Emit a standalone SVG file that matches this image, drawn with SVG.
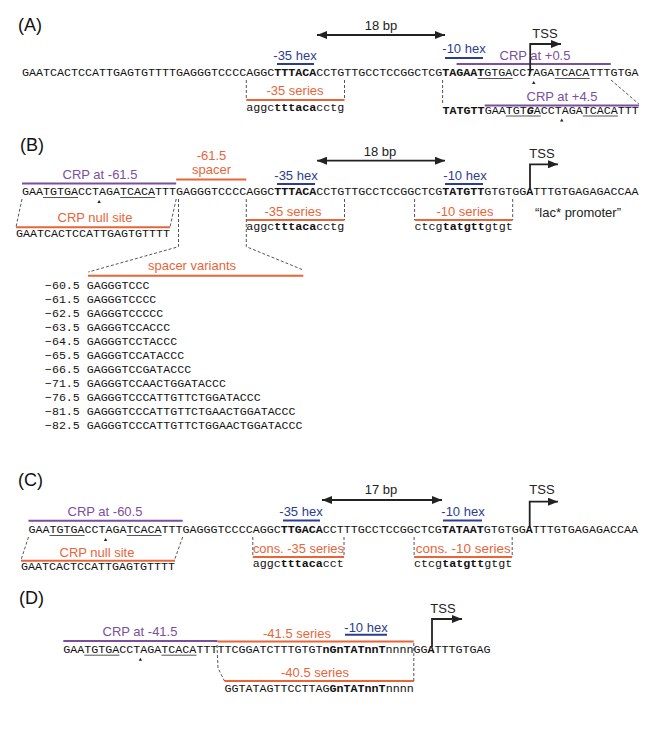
<svg xmlns="http://www.w3.org/2000/svg" width="660" height="739" viewBox="0 0 660 739">
<defs>
<style>
.seq{font-family:"Liberation Mono","DejaVu Sans Mono",monospace;font-size:11.68px;fill:#111}
.b{font-weight:bold}
.bi{font-weight:bold;font-style:italic}
.lbl{font-family:"Liberation Sans",Arial,sans-serif;font-size:13px;text-anchor:middle;fill:#222}
.pl{font-family:"Liberation Sans",Arial,sans-serif;font-size:18px;fill:#111}
.pur{fill:#7b4f9d}
.blu{fill:#2d3d8e}
.org{fill:#e8653a}
.lp{stroke:#7b4f9d;stroke-width:2}
.lb{stroke:#2d3d8e;stroke-width:2}
.lo{stroke:#e8653a;stroke-width:2}
.dash{stroke:#555;stroke-width:1;stroke-dasharray:3,2;fill:none}
.ul{stroke:#555;stroke-width:1}
.arr{stroke:#222;stroke-width:1.8;fill:none}
.car{fill:#222}
</style>
<marker id="ah" markerUnits="userSpaceOnUse" viewBox="0 0 10 8" refX="10" refY="4" markerWidth="10" markerHeight="8" orient="auto-start-reverse">
<path d="M0,0 L10,4 L0,8 z" fill="#222"/>
</marker>
</defs>

<!-- Panel A -->
<g id="panelA">
<text class="pl" x="18" y="31">(A)</text>
<g id="A-seq"><text class="seq" x="22" y="76">GAATCACTCCATTGAGTGTTTTGAGGGTCCCCAGGC<tspan class="b">TTTACA</tspan>CCTGTTGCCTCCGGCTCG<tspan class="b">TAGAAT</tspan>GTGACC<tspan class="bi">T</tspan>AGATCACATTTGTGA</text>
<line class="ul" x1="477.6" y1="78.5" x2="512.7" y2="78.5"/>
<line class="ul" x1="554.8" y1="78.5" x2="589.8" y2="78.5"/>
<path class="car" d="M532,84 L535.5,84 L533.7,81 z"/>
</g>
<g id="A-35hex"><text class="lbl blu" x="295" y="60">-35 hex</text><line class="lb" x1="277" y1="64" x2="314" y2="64"/></g>
<g id="A-10hex"><text class="lbl blu" x="464" y="53">-10 hex</text><line class="lb" x1="445" y1="58" x2="483" y2="58"/></g>
<g id="A-crp05"><text class="lbl pur" x="535" y="60">CRP at +0.5</text><line class="lp" x1="456.6" y1="64" x2="610.8" y2="64"/></g>
<g id="A-tss"><text class="lbl" x="545" y="38">TSS</text></g>
<g id="A-18bp"><text class="lbl" x="381" y="30">18 bp</text></g>
<g id="A-35series"><text class="lbl org" x="295" y="95">-35 series</text><line class="lo" x1="246.3" y1="100" x2="344.5" y2="100"/>
<text class="seq" x="246.3" y="110.5">aggc<tspan class="b">tttaca</tspan>cctg</text></g>
<g id="A-crp45"><text class="lbl pur" x="562" y="101">CRP at +4.5</text><line class="lp" x1="484.7" y1="105.5" x2="638.9" y2="105.5"/>
<text class="seq" x="442.6" y="113.5"><tspan class="b">TATGTT</tspan>GAATGT<tspan class="bi">G</tspan>ACCTAGATCACATTT</text>
<line class="ul" x1="505.7" y1="116" x2="540.7" y2="116"/>
<line class="ul" x1="582.8" y1="116" x2="617.9" y2="116"/>
<path class="car" d="M560,121.5 L563.5,121.5 L561.8,118.5 z"/>
</g>
</g>

<!-- Panel B -->
<g id="panelB">
<text class="pl" x="20" y="151">(B)</text>
<g id="B-seq"><text class="seq" x="22" y="195">GAATGTGACCTAGATCACATTTGAGGGTCCCCAGGC<tspan class="b">TTTACA</tspan>CCTGTTGCCTCCGGCTCG<tspan class="b">TATGTT</tspan>GTGTGG<tspan class="b">A</tspan>TTTGTGAGAGACCAA</text>
<line class="ul" x1="43" y1="197.5" x2="78.1" y2="197.5"/>
<line class="ul" x1="120.1" y1="197.5" x2="155.2" y2="197.5"/>
<path class="car" d="M97.4,203 L100.8,203 L99.1,200 z"/>
</g>
<g id="B-crp615"><text class="lbl pur" x="100" y="179">CRP at -61.5</text><line class="lp" x1="22" y1="183.5" x2="176.2" y2="183.5"/></g>
<g id="B-spacer"><text class="lbl org" x="211.5" y="160">-61.5</text><text class="lbl org" x="211.5" y="174">spacer</text><line class="lo" x1="176.2" y1="179.5" x2="246.3" y2="179.5"/></g>
<g id="B-35hex"><text class="lbl blu" x="296" y="180">-35 hex</text><line class="lb" x1="277" y1="184" x2="315" y2="184"/></g>
<g id="B-10hex"><text class="lbl blu" x="465" y="180">-10 hex</text><line class="lb" x1="445" y1="184" x2="483" y2="184"/></g>
<g id="B-18bp"><text class="lbl" x="380" y="156">18 bp</text></g>
<g id="B-tss"><text class="lbl" x="542" y="158">TSS</text></g>
<g id="B-35series"><text class="lbl org" x="293" y="215.5">-35 series</text><line class="lo" x1="246.3" y1="220" x2="344.5" y2="220"/>
<text class="seq" x="246.3" y="230">aggc<tspan class="b">tttaca</tspan>cctg</text></g>
<g id="B-10series"><text class="lbl org" x="465" y="215.5">-10 series</text><line class="lo" x1="414.6" y1="220" x2="512.7" y2="220"/>
<text class="seq" x="414.6" y="230">ctcg<tspan class="b">tatgtt</tspan>gtgt</text></g>
<g id="B-lac"><text class="lbl" x="578" y="217">“lac* promoter”</text></g>
<g id="B-null"><text class="lbl org" x="95" y="222">CRP null site</text><line class="lo" x1="16" y1="227.3" x2="170" y2="227.3"/>
<text class="seq" x="16" y="237">GAATCACTCCATTGAGTGTTTT</text></g>
<g id="B-variants"><text class="lbl org" x="192" y="270">spacer variants</text><line class="lo" x1="88" y1="275.7" x2="303.3" y2="275.7"/>
<text class="seq" style="font-size:11.6px" x="45" y="289">−60.5 GAGGGTCCC</text>
<text class="seq" style="font-size:11.6px" x="45" y="303">−61.5 GAGGGTCCCC</text>
<text class="seq" style="font-size:11.6px" x="45" y="317">−62.5 GAGGGTCCCCC</text>
<text class="seq" style="font-size:11.6px" x="45" y="331">−63.5 GAGGGTCCACCC</text>
<text class="seq" style="font-size:11.6px" x="45" y="345">−64.5 GAGGGTCCTACCC</text>
<text class="seq" style="font-size:11.6px" x="45" y="359">−65.5 GAGGGTCCATACCC</text>
<text class="seq" style="font-size:11.6px" x="45" y="373">−66.5 GAGGGTCCGATACCC</text>
<text class="seq" style="font-size:11.6px" x="45" y="387">−71.5 GAGGGTCCAACTGGATACCC</text>
<text class="seq" style="font-size:11.6px" x="45" y="401">−76.5 GAGGGTCCCATTGTTCTGGATACCC</text>
<text class="seq" style="font-size:11.6px" x="45" y="415">−81.5 GAGGGTCCCATTGTTCTGAACTGGATACCC</text>
<text class="seq" style="font-size:11.6px" x="45" y="429">−82.5 GAGGGTCCCATTGTTCTGGAACTGGATACCC</text>
</g>
</g>

<!-- Panel C -->
<g id="panelC">
<text class="pl" x="18" y="486">(C)</text>
<g id="C-seq"><text class="seq" x="28.5" y="533">GAATGTGACCTAGATCACATTTGAGGGTCCCCAGGC<tspan class="b">TTGACA</tspan>CCTTTGCCTCCGGCTCG<tspan class="b">TATAAT</tspan>GTGTGG<tspan class="b">A</tspan>TTTGTGAGAGACCAA</text>
<line class="ul" x1="49.5" y1="535.5" x2="84.6" y2="535.5"/>
<line class="ul" x1="126.6" y1="535.5" x2="161.7" y2="535.5"/>
<path class="car" d="M103.9,541 L107.3,541 L105.6,538 z"/>
</g>
<g id="C-crp605"><text class="lbl pur" x="105" y="516">CRP at -60.5</text><line class="lp" x1="28.5" y1="520.7" x2="182.7" y2="520.7"/></g>
<g id="C-35hex"><text class="lbl blu" x="301" y="516">-35 hex</text><line class="lb" x1="283" y1="520.5" x2="320" y2="520.5"/></g>
<g id="C-10hex"><text class="lbl blu" x="463" y="516">-10 hex</text><line class="lb" x1="443" y1="520.5" x2="482" y2="520.5"/></g>
<g id="C-17bp"><text class="lbl" x="381" y="494">17 bp</text></g>
<g id="C-tss"><text class="lbl" x="542" y="494">TSS</text></g>
<g id="C-35series"><text class="lbl org" x="298.4" y="553" textLength="91" lengthAdjust="spacingAndGlyphs">cons. -35 series</text><line class="lo" x1="252.8" y1="557" x2="344" y2="557"/>
<text class="seq" x="252.8" y="567">aggc<tspan class="b">tttaca</tspan>cct</text></g>
<g id="C-10series"><text class="lbl org" x="463.2" y="553" textLength="95" lengthAdjust="spacingAndGlyphs">cons. -10 series</text><line class="lo" x1="414.1" y1="557" x2="512.2" y2="557"/>
<text class="seq" x="414.1" y="567">ctcg<tspan class="b">tatgtt</tspan>gtgt</text></g>
<g id="C-null"><text class="lbl org" x="97" y="556.5">CRP null site</text><line class="lo" x1="21" y1="560.7" x2="175" y2="560.7"/>
<text class="seq" x="21" y="570">GAATCACTCCATTGAGTGTTTT</text></g>
</g>

<!-- Panel D -->
<g id="panelD">
<text class="pl" x="19" y="604">(D)</text>
<g id="D-seq"><text class="seq" x="63.3" y="652.7">GAATGTGACCTAGATCACATTTTTCGGATCTTTGTGT<tspan class="b">nGnTATnnT</tspan>nnnnGG<tspan class="b">A</tspan>TTTGTGAG</text>
<line class="ul" x1="84.3" y1="655.2" x2="119.4" y2="655.2"/>
<line class="ul" x1="161.4" y1="655.2" x2="196.5" y2="655.2"/>
<path class="car" d="M138.7,660.7 L142.1,660.7 L140.4,657.7 z"/>
</g>
<g id="D-crp415"><text class="lbl pur" x="140" y="636">CRP at -41.5</text><line class="lp" x1="63.3" y1="641" x2="217.5" y2="641"/></g>
<g id="D-415series"><text class="lbl org" x="297" y="637.5">-41.5 series</text><line class="lo" x1="217.5" y1="641.5" x2="413.8" y2="641.5"/></g>
<g id="D-10hex"><text class="lbl blu" x="366" y="631.5">-10 hex</text><line class="lb" x1="345" y1="634.7" x2="387" y2="634.7"/></g>
<g id="D-tss"><text class="lbl" x="443" y="613">TSS</text></g>
<g id="D-405series"><text class="lbl org" x="315" y="676.5">-40.5 series</text><line class="lo" x1="224.5" y1="681" x2="413.8" y2="681"/>
<text class="seq" x="224.5" y="692">GGTATAGTTCCTTAG<tspan class="b">GnTATnnT</tspan>nnnn</text></g>
</g>

<!-- Connectors -->
<g id="connectors">
<!-- A -->
<line class="arr" x1="317" y1="35" x2="445" y2="35" marker-start="url(#ah)" marker-end="url(#ah)"/>
<path class="arr" d="M530.2,72 V44 H561" marker-end="url(#ah)"/>
<line class="dash" x1="246.3" y1="80" x2="246.3" y2="100"/>
<line class="dash" x1="344.5" y1="80" x2="344.5" y2="100"/>
<line class="dash" x1="442.6" y1="80" x2="442.6" y2="104"/>
<line class="dash" x1="611" y1="80" x2="638.9" y2="104"/>
<!-- B -->
<line class="arr" x1="317" y1="160.7" x2="445" y2="160.7" marker-start="url(#ah)" marker-end="url(#ah)"/>
<path class="arr" d="M530,190 V164.3 H558" marker-end="url(#ah)"/>
<line class="dash" x1="22" y1="199" x2="16" y2="227"/>
<line class="dash" x1="176.2" y1="199" x2="170" y2="227"/>
<polyline class="dash" points="178.5,199 178.5,246.7 88.3,272"/>
<polyline class="dash" points="246.3,199 246.3,246.7 303.3,270"/>
<line class="dash" x1="344.5" y1="199" x2="344.5" y2="220"/>
<line class="dash" x1="414.6" y1="199" x2="414.6" y2="220"/>
<line class="dash" x1="512.7" y1="199" x2="512.7" y2="220"/>
<!-- C -->
<line class="arr" x1="322" y1="500" x2="442" y2="500" marker-start="url(#ah)" marker-end="url(#ah)"/>
<path class="arr" d="M529.7,528 V501.7 H558" marker-end="url(#ah)"/>
<line class="dash" x1="28.5" y1="537" x2="21" y2="560"/>
<line class="dash" x1="182.7" y1="537" x2="174.5" y2="560"/>
<line class="dash" x1="252.8" y1="537" x2="252.8" y2="557"/>
<line class="dash" x1="344" y1="537" x2="344" y2="557"/>
<line class="dash" x1="414.1" y1="537" x2="414.1" y2="557"/>
<line class="dash" x1="512.2" y1="537" x2="512.2" y2="557"/>
<!-- D -->
<path class="arr" d="M432,647 V619 H462" marker-end="url(#ah)"/>
<polyline class="dash" points="217,645 218,668 224.5,681"/>
<line class="dash" x1="413.8" y1="643" x2="413.8" y2="681"/>
</g>
</svg>
